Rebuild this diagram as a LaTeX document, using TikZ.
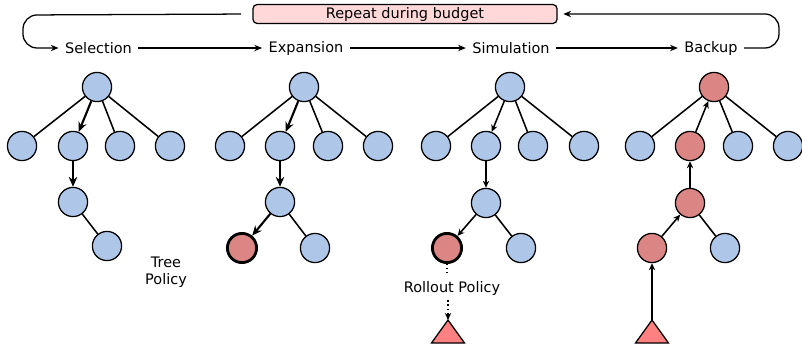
\documentclass[tikz,border=0pt]{standalone}
\usepackage{fontspec}
\setmainfont{DejaVu Sans}
\usetikzlibrary{arrows.meta}
\definecolor{mctsblue}{HTML}{AEC7E8}
\definecolor{mctsred}{HTML}{DB8585}
\definecolor{mctsleaf}{HTML}{FF8080}
\definecolor{mctspink}{HTML}{FFD9D9}

\begin{document}
\begin{tikzpicture}[x=0.025cm, y=-0.025cm, every node/.style={font=\fontsize{10.3}{12}\selectfont},
  visit/.style={circle, draw, line width=0.9pt, fill=mctsblue, minimum size=0.73cm, inner sep=0pt},
  hot/.style={visit, fill=mctsred},
  fresh/.style={hot, line width=2pt},
  phase/.style={inner sep=4.5pt},
  edge/.style={line width=1.1pt},
  walk/.style={-{Stealth[length=7pt, width=6pt]}, line width=1.5pt},
  pass/.style={-{Stealth[length=5pt, width=4.5pt]}, line width=1.1pt},
  flow/.style={-{Stealth[length=5.5pt, width=4.5pt]}, line width=0.9pt},
  leaf/.style={draw, line width=0.9pt, fill=mctsleaf},
]
\useasboundingbox (0,0) rectangle (802,344);

% loop header
\node[draw, rounded corners=3pt, fill=mctspink, line width=0.9pt, minimum width=7.6cm, minimum height=0.475cm, inner sep=0pt] (budget) at (405,14) {Repeat during budget};
\node[phase] (sel) at (98.5,48) {Selection};
\node[phase] (exp) at (306,48) {Expansion};
\node[phase] (sim) at (511,48) {Simulation};
\node[phase] (bak) at (711,48) {Backup};
\draw[flow] (sel)--(exp);
\draw[flow] (exp)--(sim);
\draw[flow] (sim)--(bak);
\draw[flow, rounded corners=10pt, shorten <=8pt] (budget.west) -- (23,15) |- (sel.west);
\draw[flow, rounded corners=10pt, shorten >=4pt] (bak.east) -- (779,48) |- (budget.east);

% selection
\node[visit] (selroot) at (97,87) {};
\node[visit] (selc1) at (22,146) {};
\node[visit] (selc2) at (73,146) {};
\node[visit] (selc3) at (120,146) {};
\node[visit] (selc4) at (170,146) {};
\node[visit] (selmid) at (73,202) {};
\node[visit] (selright) at (107,246) {};
\draw[edge] (selroot)--(selc1) (selroot)--(selc3) (selroot)--(selc4) (selmid)--(selright);
\draw[walk] (selroot)--(selc2);
\draw[walk] (selc2)--(selmid);
\node[align=center] (treepol) at (166,272) {Tree\\Policy};

% expansion
\node[visit] (exproot) at (304,87) {};
\node[visit] (expc1) at (230,146) {};
\node[visit] (expc2) at (280,146) {};
\node[visit] (expc3) at (328,146) {};
\node[visit] (expc4) at (378,146) {};
\node[visit] (expmid) at (280,202) {};
\node[fresh] (expleft) at (242,248) {};
\node[visit] (expright) at (315,248) {};
\draw[edge] (exproot)--(expc1) (exproot)--(expc3) (exproot)--(expc4) (expmid)--(expright);
\draw[walk] (exproot)--(expc2);
\draw[walk] (expc2)--(expmid);
\draw[walk] (expmid)--(expleft);

% simulation
\node[visit] (simroot) at (510,87) {};
\node[visit] (simc1) at (436,146) {};
\node[visit] (simc2) at (486,146) {};
\node[visit] (simc3) at (533,146) {};
\node[visit] (simc4) at (584,146) {};
\node[visit] (simmid) at (486,203) {};
\node[fresh] (simleft) at (447,248) {};
\node[visit] (simright) at (521,248) {};
\draw[edge] (simroot)--(simc1) (simroot)--(simc3) (simroot)--(simc4) (simmid)--(simright);
\draw[pass] (simroot)--(simc2);
\draw[pass] (simc2)--(simmid);
\draw[pass] (simmid)--(simleft);
\node (rollout) at (452,288) {Rollout Policy};
\coordinate (simtip) at (448,320);
\draw[leaf] (simtip) -- ++(16.5,23) -- ++(-33,0) -- cycle;
\draw[dotted, line width=0.9pt] (simleft) -- (simleft |- rollout.north);
\draw[pass, dotted, line width=0.9pt] (simtip |- rollout.south) -- (simtip);

% backup
\node[hot] (bakroot) at (714,87) {};
\node[visit] (bakc1) at (640,146) {};
\node[hot] (bakc2) at (690,146) {};
\node[visit] (bakc3) at (738,146) {};
\node[visit] (bakc4) at (788,146) {};
\node[hot] (bakmid) at (690,203) {};
\node[hot] (bakleft) at (652,248) {};
\node[visit] (bakright) at (725,248) {};
\draw[edge] (bakroot)--(bakc1) (bakroot)--(bakc3) (bakroot)--(bakc4) (bakmid)--(bakright);
\coordinate (baktip) at (652,320);
\draw[leaf] (baktip) -- ++(16.5,23) -- ++(-33,0) -- cycle;
\draw[pass] (baktip)--(bakleft);
\draw[pass] (bakleft)--(bakmid);
\draw[pass] (bakmid)--(bakc2);
\draw[pass] (bakc2)--(bakroot);
\end{tikzpicture}
\end{document}
